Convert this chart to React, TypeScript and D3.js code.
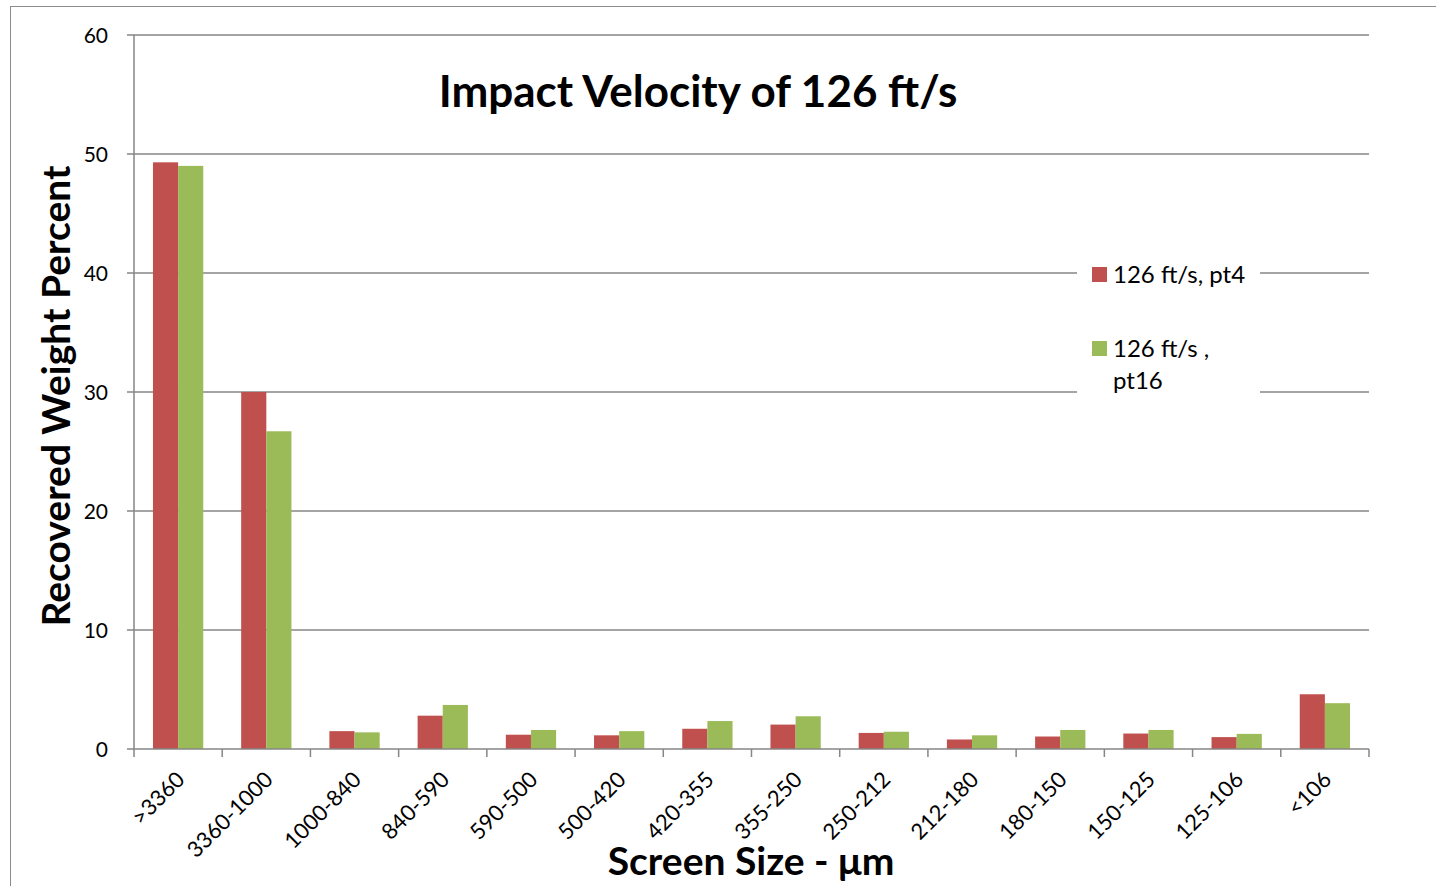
import React from "react";
import * as d3 from "d3";

const categories = [">3360", "3360-1000", "1000-840", "840-590", "590-500", "500-420", "420-355", "355-250", "250-212", "212-180", "180-150", "150-125", "125-106", "<106"];
const seriesNames = ["126 ft/s, pt4", "126 ft/s , pt16"];
const pt4 = [49.3, 30.0, 1.5, 2.8, 1.2, 1.15, 1.7, 2.05, 1.35, 0.8, 1.05, 1.3, 1.0, 4.6];
const pt16 = [49.0, 26.7, 1.4, 3.7, 1.6, 1.5, 2.35, 2.75, 1.45, 1.15, 1.6, 1.6, 1.27, 3.85];
const yTicks = [0, 10, 20, 30, 40, 50, 60];
const colors = ["#C0504D", "#9BBB59"];

const W = 1436, H = 886;
const left = 134, right = 1369, top = 35, bottom = 749;
const font = "Lato, 'Liberation Sans', sans-serif";

export default function App() {
  const x = d3.scaleBand<string>().domain(categories).range([left, right]).paddingInner(0.43).paddingOuter(0.215);
  const xb = d3.scaleBand<string>().domain(categories).range([left, right]);
  const sub = d3.scaleBand<number>().domain([0, 1]).range([0, x.bandwidth()]);
  const y = d3.scaleLinear().domain([0, 60]).range([bottom, top]);
  const series = [pt4, pt16];
  const grid = "#868686";

  return (
    <svg width={W} height={H} style={{ position: "absolute", left: 0, top: 0, background: "#fff" }}>
      <rect x={10.5} y={6.5} width={1500} height={1000} fill="none" stroke="#8c8c8c" strokeWidth={1} />
      {yTicks.map((t) => (
        <g key={t}>
          {t > 0 && <line x1={left} x2={right} y1={y(t)} y2={y(t)} stroke={grid} strokeWidth={1.5} />}
          <line x1={left - 7} x2={left} y1={y(t)} y2={y(t)} stroke={grid} strokeWidth={1.5} />
          <text x={108} y={y(t)} dy="0.36em" textAnchor="end" fontFamily={font} fontSize={21} fill="#000">{t}</text>
        </g>
      ))}
      {categories.map((c, i) =>
        series.map((s, k) => (
          <rect key={c + k} x={(x(c) as number) + (sub(k) as number)} y={y(s[i])} width={sub.bandwidth()} height={bottom - y(s[i])} fill={colors[k]} />
        ))
      )}
      <line x1={left} x2={left} y1={top} y2={bottom} stroke={grid} strokeWidth={1.5} />
      <line x1={left} x2={right} y1={bottom} y2={bottom} stroke={grid} strokeWidth={1.5} />
      {[...categories.map((c) => xb(c) as number), right].map((v, i) => (
        <line key={i} x1={v} x2={v} y1={bottom} y2={bottom + 8} stroke={grid} strokeWidth={1.5} />
      ))}
      {categories.map((c) => {
        const cx = (xb(c) as number) + xb.bandwidth() / 2 + 8;
        const cy = bottom + 32;
        return (
          <text key={c} x={cx} y={cy} transform={`rotate(-45 ${cx} ${cy})`} textAnchor="end" fontFamily={font} fontSize={22} fill="#000">{c}</text>
        );
      })}
      <text x={698} y={107} textAnchor="middle" fontFamily={font} fontWeight="bold" fontSize={44} fill="#000">Impact Velocity of 126 ft/s</text>
      <text transform={`translate(70 396) rotate(-90)`} textAnchor="middle" fontFamily={font} fontWeight="bold" fontSize={39} fill="#000">Recovered Weight Percent</text>
      <text x={751} y={875} textAnchor="middle" fontFamily={font} fontWeight="bold" fontSize={39} fill="#000">Screen Size - μm</text>
      <rect x={1077} y={255} width={183} height={145} fill="#fff" />
      <rect x={1092} y={267} width={15} height={15} fill={colors[0]} />
      <text x={1113} y={283} fontFamily={font} fontSize={24} fill="#000">{seriesNames[0]}</text>
      <rect x={1092} y={341} width={15} height={15} fill={colors[1]} />
      <text x={1113} y={357} fontFamily={font} fontSize={24} fill="#000">126 ft/s ,</text>
      <text x={1113} y={389} fontFamily={font} fontSize={24} fill="#000">pt16</text>
    </svg>
  );
}
